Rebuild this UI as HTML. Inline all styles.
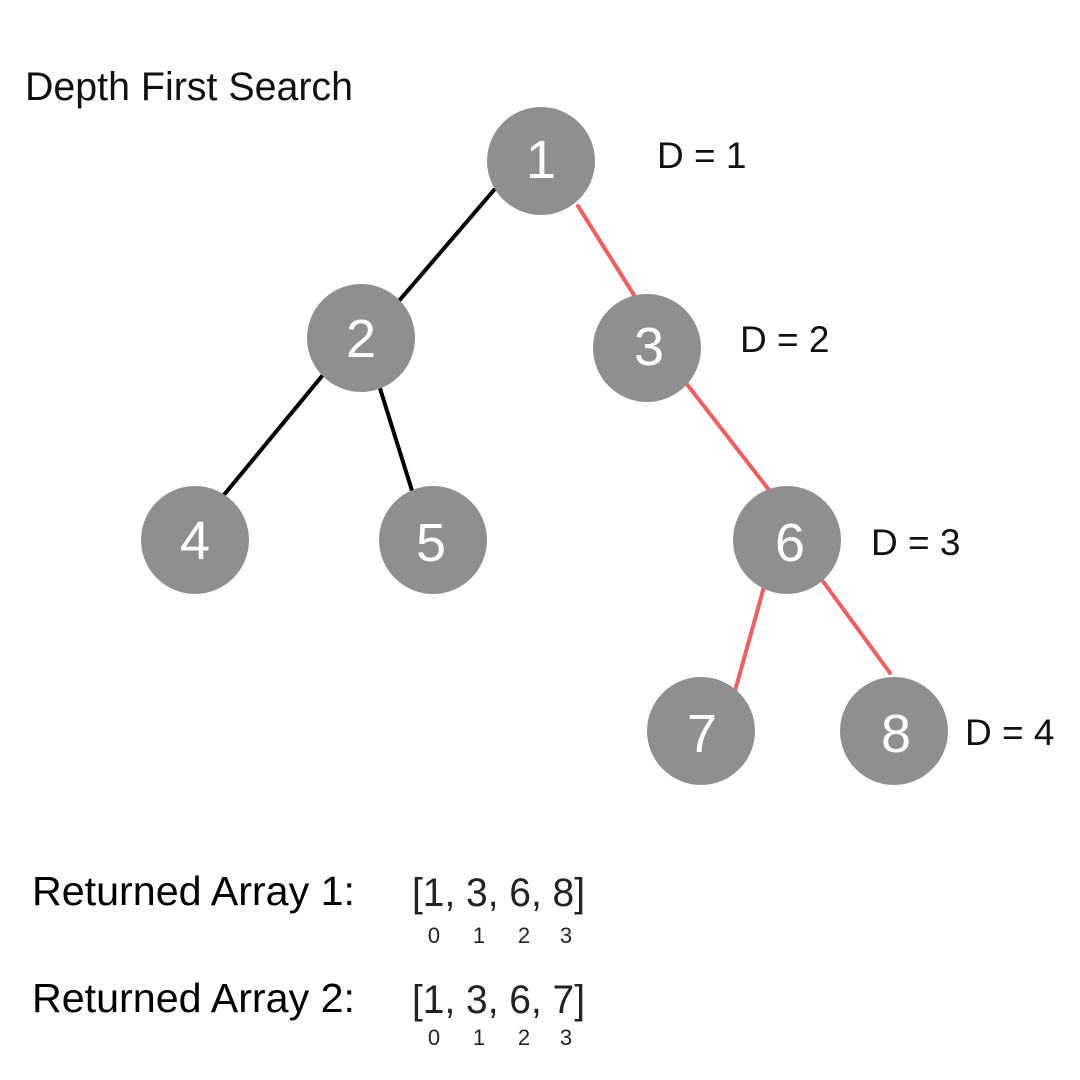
<!DOCTYPE html>
<html><head><meta charset="utf-8"><style>
html,body{margin:0;padding:0;background:#fff;}
svg{display:block;}
text{font-family:"Liberation Sans",sans-serif;}
</style></head><body>
<svg width="1080" height="1080" viewBox="0 0 1080 1080" xmlns="http://www.w3.org/2000/svg">
<rect width="1080" height="1080" fill="#fff"/>
<text x="25" y="100" font-size="40" fill="#111" textLength="328" lengthAdjust="spacingAndGlyphs">Depth First Search</text>
<g stroke="#000" stroke-width="4" stroke-linecap="round">
<line x1="494" y1="190" x2="398" y2="302"/>
<line x1="327" y1="370" x2="223" y2="496"/>
<line x1="378" y1="382" x2="414" y2="497"/>
</g>
<g stroke="#ef5f62" stroke-width="4" stroke-linecap="round">
<line x1="578" y1="206" x2="634" y2="295"/>
<line x1="686" y1="383" x2="769" y2="490"/>
<line x1="767" y1="576" x2="735" y2="691"/>
<line x1="819" y1="576" x2="890" y2="673"/>
</g>
<g fill="#8f8f8f">
<circle cx="541" cy="161" r="54"/>
<circle cx="361" cy="338" r="54"/>
<circle cx="647" cy="348" r="54"/>
<circle cx="195" cy="540" r="54"/>
<circle cx="433" cy="540" r="54"/>
<circle cx="787" cy="540" r="54"/>
<circle cx="701" cy="731" r="54"/>
<circle cx="894" cy="731" r="54"/>
</g>
<g fill="#fff" font-size="54" text-anchor="middle">
<text x="541" y="178">1</text>
<text x="361" y="357">2</text>
<text x="649" y="365">3</text>
<text x="195" y="559">4</text>
<text x="431" y="561">5</text>
<text x="790" y="561">6</text>
<text x="702" y="752">7</text>
<text x="896" y="752">8</text>
</g>
<g fill="#111" font-size="37">
<text x="657" y="168">D = 1</text>
<text x="740" y="352">D = 2</text>
<text x="871" y="555">D = 3</text>
<text x="965" y="745">D = 4</text>
</g>
<g fill="#000" font-size="41">
<text x="32" y="905" textLength="323" lengthAdjust="spacingAndGlyphs">Returned Array 1:</text>
<text x="32" y="1012" textLength="323" lengthAdjust="spacingAndGlyphs">Returned Array 2:</text>
</g>
<g fill="#222" font-size="40">
<text x="412" y="906" textLength="173" lengthAdjust="spacingAndGlyphs">[1, 3, 6, 8]</text>
<text x="412" y="1013" textLength="173" lengthAdjust="spacingAndGlyphs">[1, 3, 6, 7]</text>
</g>
<g fill="#222" font-size="22" text-anchor="middle">
<text x="434" y="943">0</text><text x="479" y="943">1</text><text x="524" y="943">2</text><text x="566" y="943">3</text>
<text x="434" y="1045">0</text><text x="479" y="1045">1</text><text x="524" y="1045">2</text><text x="566" y="1045">3</text>
</g>
</svg>
</body></html>
